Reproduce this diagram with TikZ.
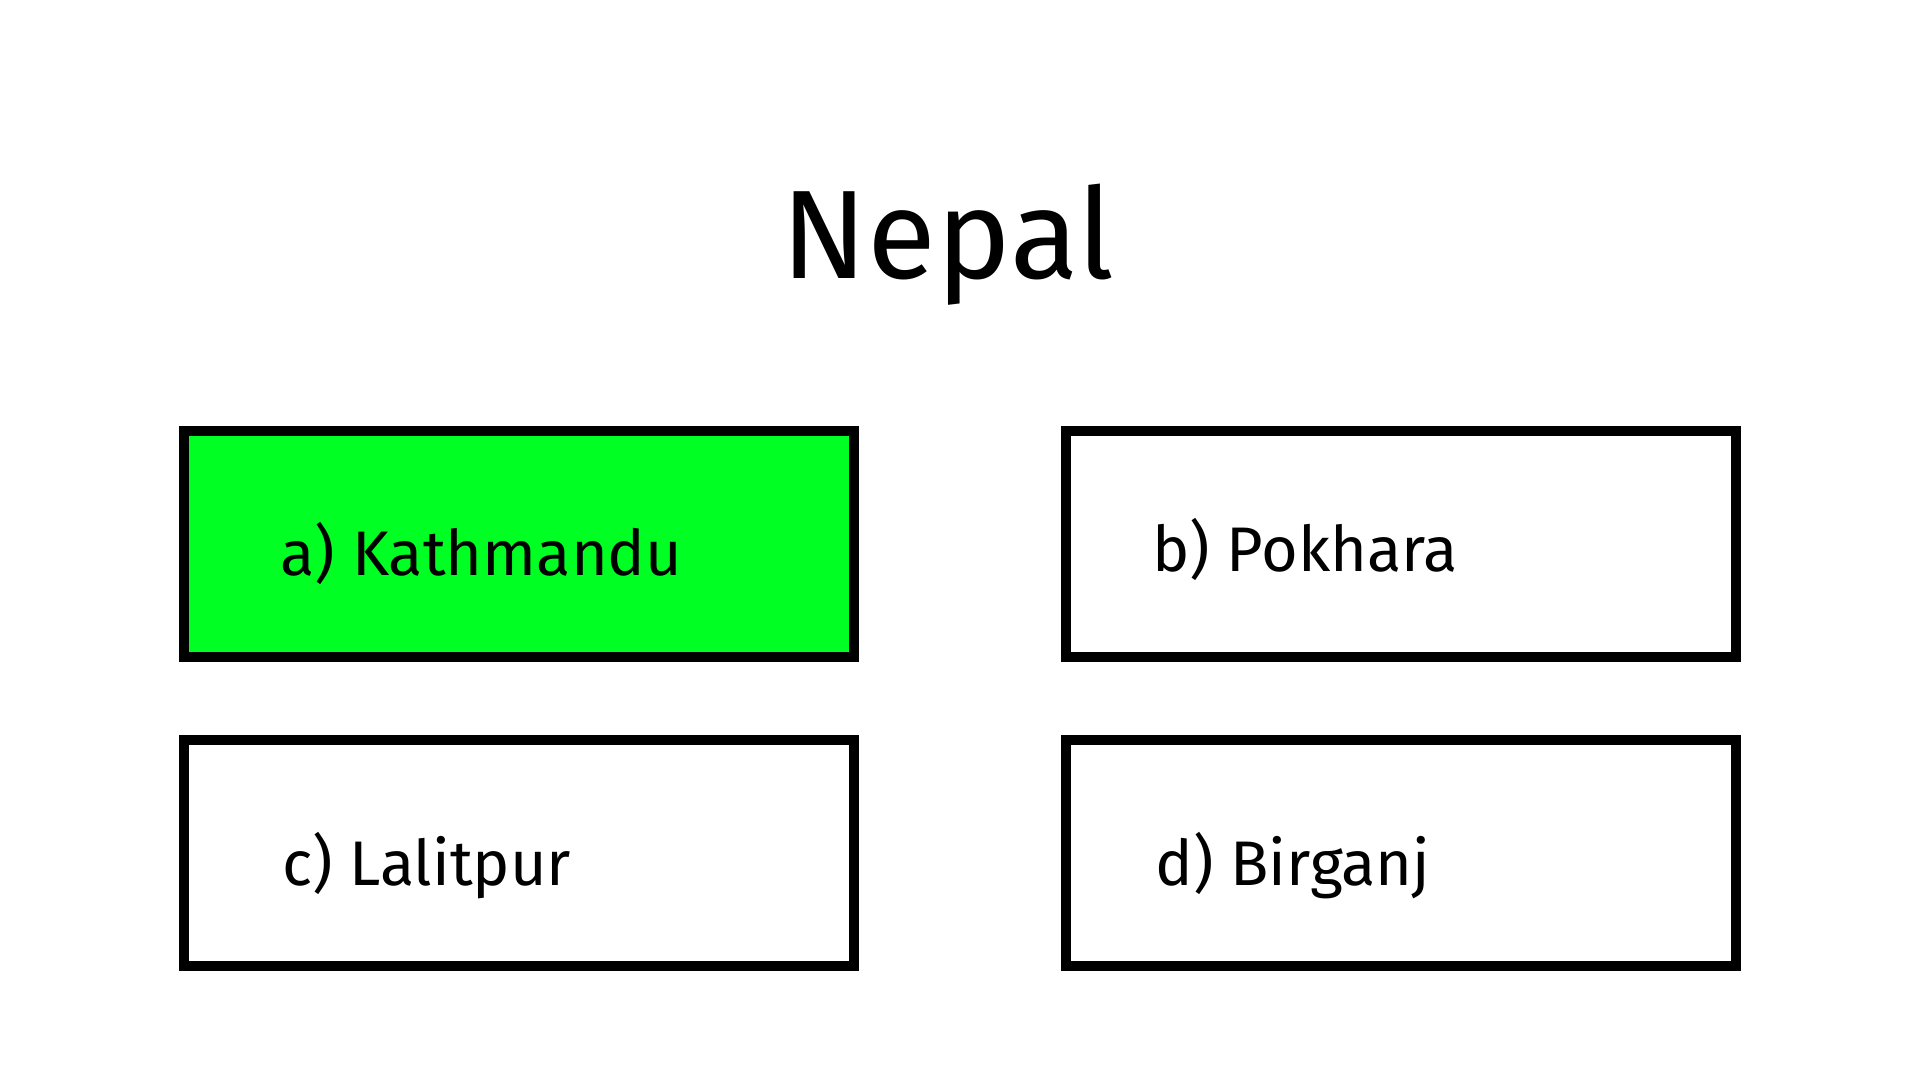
\documentclass[tikz,border=0pt]{standalone}
\usepackage{fontspec}
\setmainfont{Fira Sans}
\definecolor{answergreen}{RGB}{0,255,34}
\begin{document}
\begin{tikzpicture}[x=1pt,y=-1pt,
  optbox/.style={draw=black, line width=10pt, minimum width=670pt, minimum height=226pt, inner sep=0pt, outer sep=0pt},
  opttext/.style={anchor=base west, inner sep=0pt, font=\fontsize{63}{63}\selectfont},
  titletext/.style={anchor=base, inner sep=0pt, font=\fontsize{126}{126}\selectfont}]
\useasboundingbox[fill=white] (0,0) rectangle (1919,1079);
\node[titletext] (title) at (948,278) {Nepal};
\node[optbox, fill=answergreen] (boxa) at (519,543.5) {};
\node[optbox, fill=white] (boxb) at (1401,543.5) {};
\node[optbox, fill=white] (boxc) at (519,852.5) {};
\node[optbox, fill=white] (boxd) at (1401,852.5) {};
\node[opttext] (ta) at (280.5,575) {a) Kathmandu};
\node[opttext] (tb) at (1152,571) {b) Pokhara};
\node[opttext] (tc) at (282,885) {c) Lalitpur};
\node[opttext] (td) at (1155.5,885) {d) Birganj};
\end{tikzpicture}
\end{document}
